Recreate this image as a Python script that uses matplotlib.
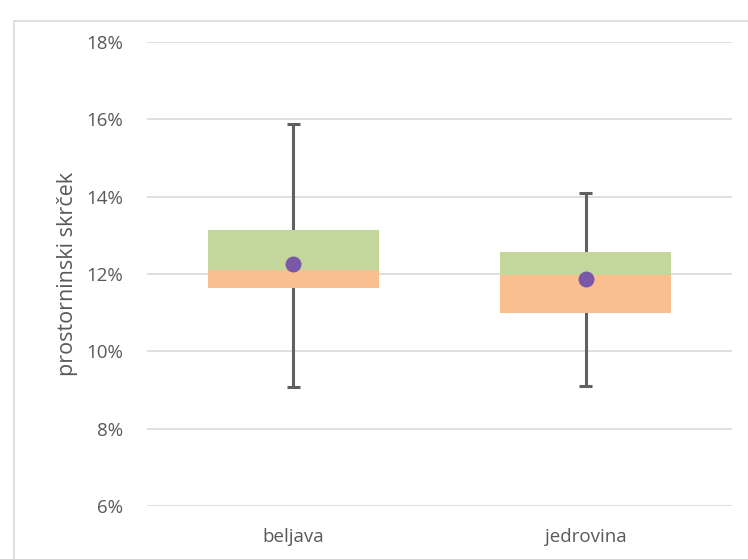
import matplotlib.pyplot as plt
from matplotlib.patches import Rectangle
from matplotlib.ticker import PercentFormatter

categories = ['beljava', 'jedrovina']
minimum = [9.08, 9.10]
q1 = [11.64, 10.99]
median = [12.10, 11.97]
q3 = [13.14, 12.57]
maximum = [15.87, 14.10]
mean = [12.26, 11.87]

plt.rcParams['font.family'] = ['Open Sans', 'DejaVu Sans']

fig = plt.figure(figsize=(7.48, 5.59), dpi=100)
ax = fig.add_axes([0.1965, 0.0948, 0.782, 0.830])

# chart frame like excel
fig.patches.append(Rectangle((14 / 748, -0.05), 1.0, 1 - 21 / 559 + 0.05,
                             transform=fig.transFigure, fill=False,
                             edgecolor='#d9d9d9', linewidth=1.2))

x = range(len(categories))
width = 0.585
cap = 0.022

# whiskers behind boxes
ax.vlines(x, minimum, maximum, color='#606060', linewidth=2.2, zorder=2)
ax.hlines(minimum, [i - cap for i in x], [i + cap for i in x], color='#606060', linewidth=2.2, zorder=2)
ax.hlines(maximum, [i - cap for i in x], [i + cap for i in x], color='#606060', linewidth=2.2, zorder=2)

lower = [m - a for m, a in zip(median, q1)]
upper = [b - m for b, m in zip(q3, median)]
ax.bar(x, lower, width, bottom=q1, color='#f9bf8f', zorder=3)
ax.bar(x, upper, width, bottom=median, color='#c3d69b', zorder=3)

ax.scatter(x, mean, s=110, color='#7a58a8', zorder=4)

ax.set_xlim(-0.5, 1.5)
ax.set_ylim(6, 18)
ax.set_yticks(range(6, 19, 2))
ax.yaxis.set_major_formatter(PercentFormatter(decimals=0))
ax.set_xticks(list(x))
ax.set_xticklabels(categories)
ax.grid(axis='y', color='#d9d9d9', linewidth=1.2, zorder=0)
ax.set_axisbelow(True)
for s in ax.spines.values():
    s.set_visible(False)
ax.tick_params(length=0, labelsize=13.5, colors='#595959')
ax.tick_params(axis='y', pad=17)
ax.tick_params(axis='x', pad=16)
ax.set_ylabel('prostorninski skrček', fontsize=15.5, color='#595959', labelpad=6)

fig.savefig('out.png', dpi=100)
